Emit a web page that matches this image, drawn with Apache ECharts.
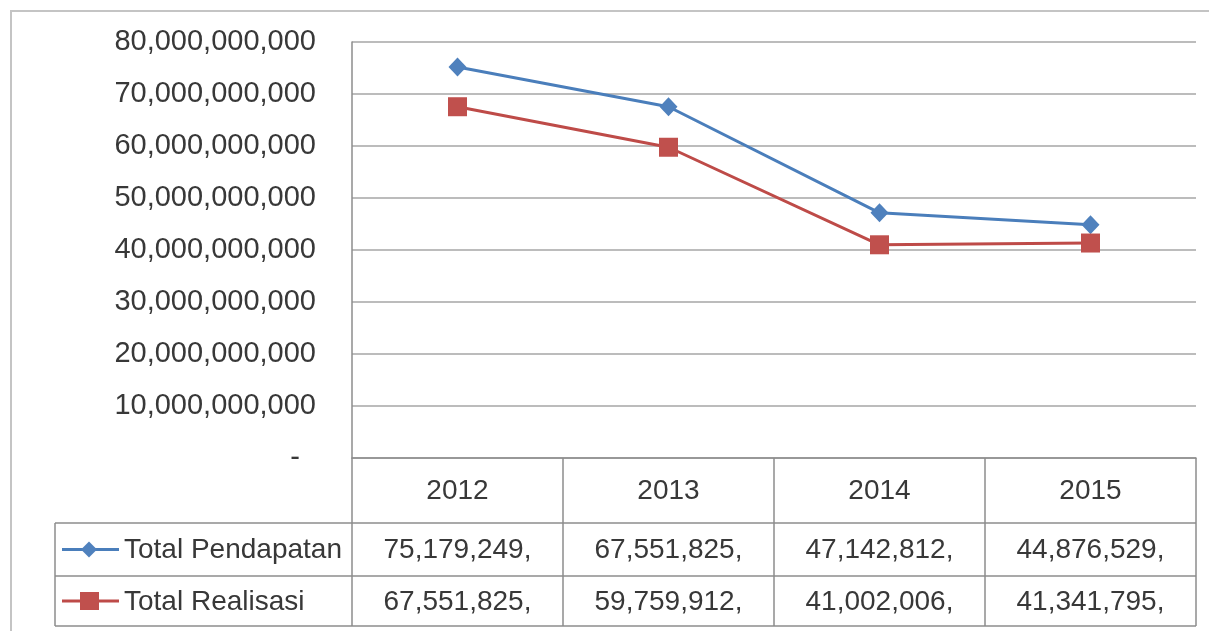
<!DOCTYPE html>
<html><head><meta charset="utf-8">
<script src="https://cdn.jsdelivr.net/npm/echarts@6/dist/echarts.min.js"></script>
<style>html,body{margin:0;padding:0;background:#fff}#c{width:1209px;height:631px}</style>
</head><body><div id="c"></div>
<script>
const years = ['2012', '2013', '2014', '2015'];
const seriesNames = ['Total Pendapatan', 'Total Realisasi'];
const pendapatan = [75179249000, 67551825000, 47142812000, 44876529000];
const realisasi = [67551825000, 59759912000, 41002006000, 41341795000];
const yMin = 0, yMax = 80000000000, yStep = 10000000000;

const FONT = 'Liberation Sans';
const TXT = '#383838';
const GRID = '#a6a6a6';
const LINE = '#8c8c8c';
const BLUE = '#4A7EBB', BLUE_M = '#4F81BD';
const RED = '#BE4B48', RED_M = '#C0504D';

function commas(v) { return String(Math.round(v)).replace(/\B(?=(\d{3})+(?!\d))/g, ','); }
function yLabel(v) { return v === 0 ? '-  ' : commas(v); }
// table shows values truncated to the first three digit groups, as in the source
function cellLabel(v) { const s = commas(v).split(','); return s.slice(0, 3).join(',') + ','; }

const chart = echarts.init(document.getElementById('c'), null, { renderer: 'canvas' });
chart.setOption({
  animation: false,
  backgroundColor: '#fff',
  grid: { left: 352, right: 13, top: 42, bottom: 173, containLabel: false },
  xAxis: {
    type: 'category', data: years, boundaryGap: true,
    axisLine: { show: true, lineStyle: { color: LINE, width: 1.5 } },
    axisTick: { show: false }, axisLabel: { show: false }, splitLine: { show: false }
  },
  yAxis: {
    type: 'value', min: yMin, max: yMax, interval: yStep,
    axisLine: { show: true, lineStyle: { color: LINE, width: 1.5 } },
    axisTick: { show: false },
    axisLabel: { formatter: yLabel, margin: 36, fontFamily: FONT, fontSize: 29, color: TXT },
    splitLine: { show: true, lineStyle: { color: GRID, width: 1.5 } }
  },
  series: [
    { name: seriesNames[0], type: 'line', data: pendapatan, symbol: 'diamond', symbolSize: [18, 19],
      lineStyle: { color: BLUE, width: 3 }, itemStyle: { color: BLUE_M }, z: 3 },
    { name: seriesNames[1], type: 'line', data: realisasi, symbol: 'rect', symbolSize: 19,
      lineStyle: { color: RED, width: 3 }, itemStyle: { color: RED_M }, z: 4 }
  ]
});

// build data table beneath the plot, positioned from the axes
const centers = years.map((_, i) => chart.convertToPixel({ xAxisIndex: 0 }, i));
const band = centers[1] - centers[0];
const bounds = centers.map(c => c - band / 2).concat([centers[centers.length - 1] + band / 2]);
const y0 = chart.convertToPixel({ yAxisIndex: 0 }, 0);
const r1 = y0 + 65, r2 = r1 + 53, r3 = r2 + 50;
const legL = 55;
const right = bounds[bounds.length - 1];
const els = [];
const hl = (x1, x2, y) => els.push({ type: 'line', shape: { x1, y1: y, x2, y2: y }, style: { stroke: LINE, lineWidth: 1.5 }, z: 10 });
const vl = (x, ya, yb) => els.push({ type: 'line', shape: { x1: x, y1: ya, x2: x, y2: yb }, style: { stroke: LINE, lineWidth: 1.5 }, z: 10 });
hl(legL, right, r1); hl(legL, right, r2); hl(legL, right, r3);
vl(legL, r1, r3);
bounds.forEach(b => vl(b, y0, r3));
const txt = (x, y, t, align) => els.push({ type: 'text', x, y, style: { text: t, fill: TXT, font: '28px "' + FONT + '"', align: align, verticalAlign: 'middle' }, z: 11 });
years.forEach((yr, i) => txt(centers[i], (y0 + r1) / 2 + 1, yr, 'center'));
[pendapatan, realisasi].forEach((arr, k) => {
  const yc = k === 0 ? (r1 + r2) / 2 : (r2 + r3) / 2;
  arr.forEach((v, i) => txt(centers[i], yc + 1, cellLabel(v), 'center'));
  txt(124, yc + 1, seriesNames[k], 'left');
  const col = k === 0 ? BLUE : RED, mcol = k === 0 ? BLUE_M : RED_M;
  els.push({ type: 'line', shape: { x1: 62, y1: yc, x2: 119, y2: yc }, style: { stroke: col, lineWidth: 3 }, z: 11 });
  if (k === 0) {
    els.push({ type: 'polygon', shape: { points: [[89, yc - 8], [97, yc], [89, yc + 8], [81, yc]] }, style: { fill: mcol }, z: 12 });
  } else {
    els.push({ type: 'rect', shape: { x: 80, y: yc - 9, width: 19, height: 18 }, style: { fill: mcol }, z: 12 });
  }
});
// outer chart-area border
els.push({ type: 'rect', shape: { x: 11, y: 11, width: 1220, height: 640 }, style: { fill: 'none', stroke: '#c4c4c4', lineWidth: 2 }, z: 1 });
chart.setOption({ graphic: { elements: els } });
</script>
</body></html>
